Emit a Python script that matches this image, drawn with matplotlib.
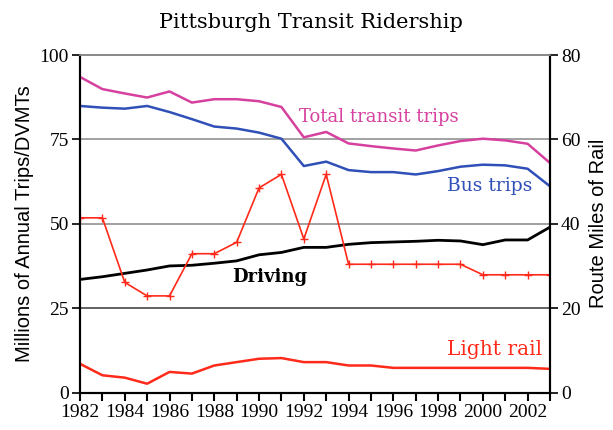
import numpy as np
import matplotlib
matplotlib.use("Agg")
from matplotlib import pyplot as plt

# Годы и ряды данных
years = list(range(1982, 2004))
total_trips = [93.5, 89.9, 88.6, 87.4, 89.2, 85.9, 86.9, 86.9, 86.3, 84.6, 75.6,
               77.2, 73.8, 73.0, 72.3, 71.7, 73.2, 74.5, 75.2, 74.7, 73.7, 68.0]
bus_trips = [84.9, 84.4, 84.1, 84.9, 83.1, 81.0, 78.8, 78.2, 77.0, 75.2, 67.1,
             68.4, 65.9, 65.3, 65.3, 64.6, 65.6, 66.9, 67.5, 67.3, 66.3, 61.1]
driving = [33.5, 34.3, 35.3, 36.3, 37.5, 37.7, 38.3, 39.0, 40.8, 41.5, 43.0,
           43.0, 43.9, 44.4, 44.6, 44.8, 45.1, 44.9, 43.8, 45.2, 45.2, 49.0]
light_rail = [8.5, 5.1, 4.4, 2.6, 6.1, 5.6, 8.0, 9.0, 10.0, 10.2, 9.0,
              9.0, 8.0, 8.0, 7.3, 7.3, 7.3, 7.3, 7.3, 7.3, 7.3, 7.0]
route_miles = [41.4, 41.4, 26.1, 22.9, 22.9, 32.9, 32.9, 35.6, 48.5, 51.7, 36.4,
               51.7, 30.4, 30.4, 30.4, 30.4, 30.4, 30.4, 27.9, 27.9, 27.9, 27.9]

left_ticks = [0, 25, 50, 75, 100]
right_ticks = [0, 20, 40, 60, 80]

serif = "Liberation Serif"
c_total = "#d6409e"
c_bus = "#3050b8"
c_rail = "#ff2a1a"

fig = plt.figure(figsize=(6.13, 4.30), dpi=100)
ax = fig.add_axes([80 / 613, 1 - 392.5 / 430, 470 / 613, 337.5 / 430])
ax2 = ax.twinx()

# Сетка
for v in [50, 75]:
    ax.axhline(v, color="#9a9a9a", lw=1.3, zorder=0)
ax.axhline(25, color="#555555", lw=1.3, zorder=0)

ax.plot(years, total_trips, color=c_total, lw=1.8, zorder=3)
ax.plot(years, bus_trips, color=c_bus, lw=1.8, zorder=3)
ax.plot(years, driving, color="black", lw=2.0, zorder=3)
ax.plot(years, light_rail, color=c_rail, lw=1.8, zorder=3)
ax2.plot(years, route_miles, color=c_rail, lw=1.2, marker="+", ms=5.5, mew=1.0)

ax.set_xlim(1982, 2003)
ax.set_ylim(0, 100)
ax2.set_ylim(0, 80)

ax.set_xticks(years, minor=True)
ax.set_xticks(years[::2])
ax.set_xticklabels([str(y) for y in years[::2]], fontfamily=serif, fontsize=14)
ax.set_yticks(left_ticks)
ax.set_yticklabels([str(v) for v in left_ticks], fontfamily=serif, fontsize=14)
ax2.set_yticks(right_ticks)
ax2.set_yticklabels([str(v) for v in right_ticks], fontfamily=serif, fontsize=14)

ax.tick_params(axis="x", which="both", direction="out", length=6, width=1.5, pad=2)
ax.tick_params(axis="y", direction="out", length=6, width=1.2, pad=2)
ax2.tick_params(axis="y", direction="out", length=6, width=1.2, pad=2)

for a in (ax, ax2):
    a.spines["top"].set_color("#8a8a8a")
    a.spines["top"].set_linewidth(1.3)
    a.spines["left"].set_linewidth(1.5)
    a.spines["right"].set_linewidth(1.5)
    a.spines["bottom"].set_linewidth(1.5)

ax.set_ylabel("Millions of Annual Trips/DVMTs", fontfamily="Liberation Sans", fontsize=14.5, labelpad=4)
ax2.set_ylabel("Route Miles of Rail", fontfamily="Liberation Sans", fontsize=14.5, labelpad=6)

fig.text(0.507, 0.948, "Pittsburgh Transit Ridership", fontfamily="DejaVu Serif",
         fontsize=15, ha="center", va="center")

ax.text(1991.8, 80.2, "Total transit trips", color=c_total, fontfamily="DejaVu Serif", fontsize=13)
ax.text(1998.4, 59.7, "Bus trips", color=c_bus, fontfamily="DejaVu Serif", fontsize=13.5)
ax.text(1988.8, 32.8, "Driving", color="black", fontfamily="DejaVu Serif", fontsize=13, fontweight="bold")
ax.text(1998.4, 11.1, "Light rail", color=c_rail, fontfamily="DejaVu Serif", fontsize=14.5)

fig.savefig("out.png", dpi=100)
